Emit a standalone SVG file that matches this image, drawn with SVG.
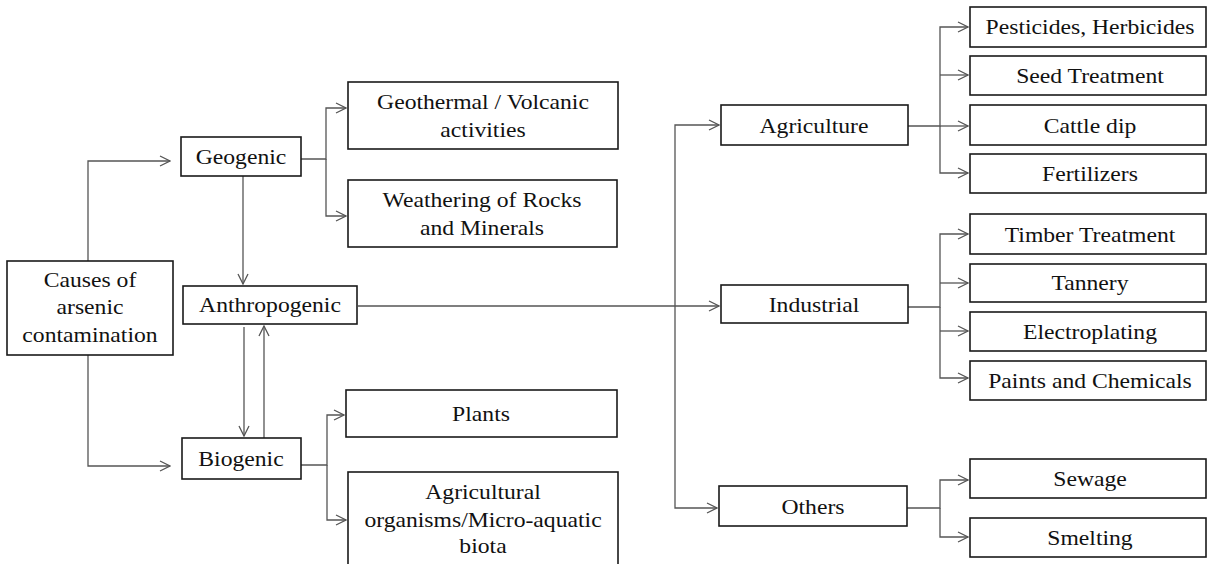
<svg xmlns="http://www.w3.org/2000/svg" width="1209" height="564" viewBox="0 0 1209 564">
<defs>
<style>
.box{fill:#fff;stroke:#1a1a1a;stroke-width:1.6}
.t{font-family:"Liberation Serif","Times New Roman",serif;font-size:21.5px;fill:#111;text-anchor:middle}
.c{fill:none;stroke:#555;stroke-width:1.3}
</style>
<marker id="ah" markerUnits="userSpaceOnUse" markerWidth="12" markerHeight="12" viewBox="0 0 12 12" refX="11" refY="6" orient="auto">
<path d="M1,1 L11,6 L1,11" fill="none" stroke="#555" stroke-width="1.3"/>
</marker>
</defs>
<rect width="1209" height="564" fill="#fff"/>

<g id="connectors">
<path class="c" d="M88,261 V161 H170" marker-end="url(#ah)"/>
<path class="c" d="M88,355 V466 H170" marker-end="url(#ah)"/>
<path class="c" d="M243,176 V284" marker-end="url(#ah)"/>
<path class="c" d="M244,327 V436" marker-end="url(#ah)"/>
<path class="c" d="M264,438 V326" marker-end="url(#ah)"/>
<path class="c" d="M301,159 H326 V108 H346" marker-end="url(#ah)"/>
<path class="c" d="M326,159 V216 H346" marker-end="url(#ah)"/>
<path class="c" d="M301,465 H327 V415 H344" marker-end="url(#ah)"/>
<path class="c" d="M327,465 V520 H346" marker-end="url(#ah)"/>
<path class="c" d="M358,306 H719" marker-end="url(#ah)"/>
<path class="c" d="M675,306 V125 H719" marker-end="url(#ah)"/>
<path class="c" d="M675,306 V508 H717" marker-end="url(#ah)"/>
<path class="c" d="M908,126 H940 V27 H968" marker-end="url(#ah)"/>
<path class="c" d="M940,75 H968" marker-end="url(#ah)"/>
<path class="c" d="M940,126 H968" marker-end="url(#ah)"/>
<path class="c" d="M940,126 V173 H968" marker-end="url(#ah)"/>
<path class="c" d="M908,307 H940 V234 H968" marker-end="url(#ah)"/>
<path class="c" d="M940,283 H968" marker-end="url(#ah)"/>
<path class="c" d="M940,331 H968" marker-end="url(#ah)"/>
<path class="c" d="M940,307 V378 H968" marker-end="url(#ah)"/>
<path class="c" d="M907,508 H940 V480 H968" marker-end="url(#ah)"/>
<path class="c" d="M940,508 V537 H968" marker-end="url(#ah)"/>
</g>

<g id="causes"><rect class="box" x="7" y="261" width="166" height="94"/>
<text class="t" transform="translate(90,287) scale(1.1,1)">Causes of</text>
<text class="t" transform="translate(90,314) scale(1.1,1)">arsenic</text>
<text class="t" transform="translate(90,342) scale(1.1,1)">contamination</text></g>

<g id="geogenic"><rect class="box" x="181" y="137" width="120" height="39"/>
<text class="t" transform="translate(241,164) scale(1.1,1)">Geogenic</text></g>

<g id="anthropogenic"><rect class="box" x="183" y="286" width="174" height="38"/>
<text class="t" transform="translate(270,312) scale(1.1,1)">Anthropogenic</text></g>

<g id="biogenic"><rect class="box" x="182" y="438" width="119" height="41"/>
<text class="t" transform="translate(241,466) scale(1.1,1)">Biogenic</text></g>

<g id="geothermal"><rect class="box" x="348" y="82" width="270" height="67"/>
<text class="t" transform="translate(483,109) scale(1.1,1)">Geothermal / Volcanic</text>
<text class="t" transform="translate(483,137) scale(1.1,1)">activities</text></g>

<g id="weathering"><rect class="box" x="348" y="180" width="269" height="67"/>
<text class="t" transform="translate(482,207) scale(1.1,1)">Weathering of Rocks</text>
<text class="t" transform="translate(482,235) scale(1.1,1)">and Minerals</text></g>

<g id="plants"><rect class="box" x="346" y="390" width="271" height="47"/>
<text class="t" transform="translate(481,421) scale(1.1,1)">Plants</text></g>

<g id="agricultural"><rect class="box" x="348" y="472" width="270" height="100"/>
<text class="t" transform="translate(483,499) scale(1.1,1)">Agricultural</text>
<text class="t" transform="translate(483,527) scale(1.1,1)">organisms/Micro-aquatic</text>
<text class="t" transform="translate(483,553) scale(1.1,1)">biota</text></g>

<g id="agriculture"><rect class="box" x="721" y="105" width="187" height="40"/>
<text class="t" transform="translate(814,133) scale(1.1,1)">Agriculture</text></g>

<g id="industrial"><rect class="box" x="721" y="285" width="187" height="38"/>
<text class="t" transform="translate(814,312) scale(1.1,1)">Industrial</text></g>

<g id="others"><rect class="box" x="719" y="486" width="188" height="40"/>
<text class="t" transform="translate(813,514) scale(1.1,1)">Others</text></g>

<g id="pesticides"><rect class="box" x="970" y="7" width="236" height="40"/>
<text class="t" transform="translate(1090,34) scale(1.1,1)">Pesticides, Herbicides</text></g>
<g id="seed"><rect class="box" x="970" y="56" width="236" height="39"/>
<text class="t" transform="translate(1090,83) scale(1.1,1)">Seed Treatment</text></g>
<g id="cattle"><rect class="box" x="970" y="105" width="236" height="40"/>
<text class="t" transform="translate(1090,133) scale(1.1,1)">Cattle dip</text></g>
<g id="fertilizers"><rect class="box" x="970" y="154" width="236" height="39"/>
<text class="t" transform="translate(1090,181) scale(1.1,1)">Fertilizers</text></g>
<g id="timber"><rect class="box" x="970" y="214" width="236" height="40"/>
<text class="t" transform="translate(1090,242) scale(1.1,1)">Timber Treatment</text></g>
<g id="tannery"><rect class="box" x="970" y="264" width="236" height="38"/>
<text class="t" transform="translate(1090,290) scale(1.1,1)">Tannery</text></g>
<g id="electroplating"><rect class="box" x="970" y="312" width="236" height="39"/>
<text class="t" transform="translate(1090,339) scale(1.1,1)">Electroplating</text></g>
<g id="paints"><rect class="box" x="970" y="361" width="236" height="39"/>
<text class="t" transform="translate(1090,388) scale(1.1,1)">Paints and Chemicals</text></g>
<g id="sewage"><rect class="box" x="970" y="459" width="236" height="39"/>
<text class="t" transform="translate(1090,486) scale(1.1,1)">Sewage</text></g>
<g id="smelting"><rect class="box" x="970" y="518" width="236" height="39"/>
<text class="t" transform="translate(1090,545) scale(1.1,1)">Smelting</text></g>
</svg>
